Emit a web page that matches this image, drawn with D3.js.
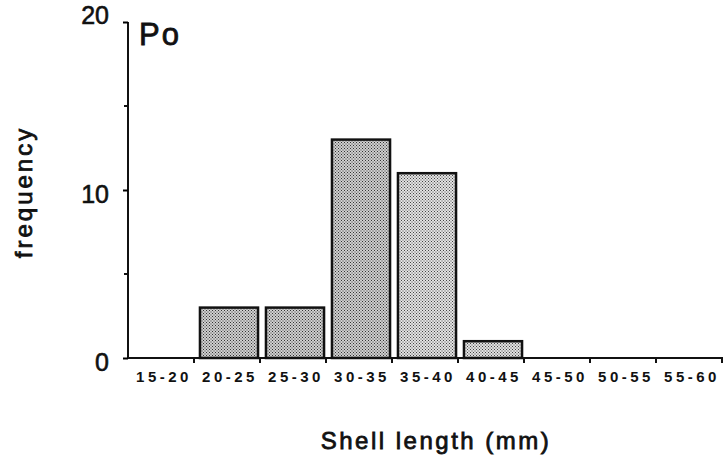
<!DOCTYPE html>
<html>
<head>
<meta charset="utf-8">
<script src="https://cdn.jsdelivr.net/npm/d3@7"></script>
<style>
  body { margin: 0; background: #fff; }
  text { font-family: "Liberation Sans", Arial, sans-serif; fill: #111; }
</style>
</head>
<body>
<div class="chart"></div>
<script>
var svgWidth = 723;
var svgHeight = 463;

// data
var bins = ["15-20", "20-25", "25-30", "30-35", "35-40", "40-45", "45-50", "50-55", "55-60"];
var counts = [0, 3, 3, 13, 11, 1, 0, 0, 0];
var shade = ["dark", "dark", "dark", "dark", "light", "light", "light", "light", "light"];
var yTicks = [0, 10, 20];
var yMinorTicks = [5, 15];

var margin = { top: 22, right: 0, bottom: 105, left: 128 };
var width = svgWidth - margin.left - margin.right;
var height = svgHeight - margin.top - margin.bottom;

var svg = d3.select(".chart")
  .append("svg")
  .attr("width", svgWidth)
  .attr("height", svgHeight);

// stipple patterns
var defs = svg.append("defs");
function stipple(id, bg, dot, step) {
  var p = defs.append("pattern")
    .attr("id", id)
    .attr("width", step)
    .attr("height", step)
    .attr("patternUnits", "userSpaceOnUse");
  p.append("rect").attr("width", step).attr("height", step).attr("fill", bg);
  p.append("rect").attr("x", 0).attr("y", 0).attr("width", 1).attr("height", 1).attr("fill", dot);
  p.append("rect").attr("x", step / 2).attr("y", step / 2).attr("width", 1).attr("height", 1).attr("fill", dot);
}
stipple("dark", "#cfcfcf", "#333", 3);
stipple("light", "#e2e2e2", "#444", 3);

var chartGroup = svg.append("g")
  .attr("transform", `translate(${margin.left}, ${margin.top})`);

var xScale = d3.scaleBand()
  .domain(bins)
  .range([0, 66 * bins.length])
  .paddingInner(0.12)
  .paddingOuter(0.06);

var yScale = d3.scaleLinear()
  .domain([0, 20])
  .range([height, 0]);

// bars
chartGroup.selectAll("rect.bar")
  .data(bins.map((b, i) => ({ bin: b, n: counts[i], s: shade[i] })).filter(d => d.n > 0))
  .enter()
  .append("rect")
  .attr("class", "bar")
  .attr("x", d => xScale(d.bin) + 2)
  .attr("y", d => yScale(d.n))
  .attr("width", xScale.bandwidth())
  .attr("height", d => yScale(0) - yScale(d.n))
  .attr("fill", d => "url(#" + d.s + ")")
  .attr("stroke", "#111")
  .attr("stroke-width", 2.5);

// y axis
var yAxis = d3.axisLeft(yScale).tickValues(yTicks).tickSize(5).tickPadding(14);
var yG = chartGroup.append("g").call(yAxis);
yG.select(".domain").attr("stroke", "#111").attr("stroke-width", 2).attr("d", `M0,${height}V0`);
yG.selectAll(".tick line").attr("stroke-width", 2);
yG.selectAll(".tick text")
  .style("font-size", "25px")
  .style("stroke", "#111")
  .style("stroke-width", "0.6px")
  .attr("dy", d => d == 20 ? "0.05em" : "0.5em");
chartGroup.selectAll("line.minor")
  .data(yMinorTicks)
  .enter()
  .append("line")
  .attr("x1", -4).attr("x2", 0)
  .attr("y1", d => yScale(d)).attr("y2", d => yScale(d))
  .attr("stroke", "#111").attr("stroke-width", 2);

// x axis
var bandStep = xScale.step();
var edges = d3.range(bins.length + 1).map(i => i * bandStep);
var xG = chartGroup.append("g").attr("transform", `translate(0, ${height})`);
xG.append("line")
  .attr("x1", 0).attr("x2", width)
  .attr("y1", 0).attr("y2", 0)
  .attr("stroke", "#111").attr("stroke-width", 2);
xG.selectAll("line.tick")
  .data(edges.slice(1))
  .enter()
  .append("line")
  .attr("x1", d => d).attr("x2", d => d)
  .attr("y1", 0).attr("y2", 5)
  .attr("stroke", "#111").attr("stroke-width", 2);
xG.selectAll("text.lab")
  .data(bins)
  .enter()
  .append("text")
  .attr("x", d => xScale(d) + xScale.bandwidth() / 2 + 3)
  .attr("y", 24)
  .attr("text-anchor", "middle")
  .style("font-size", "15px")
  .style("font-weight", "bold")
  .style("letter-spacing", "3.5px")
  .text(d => d);

// labels
svg.append("text")
  .attr("x", 139)
  .attr("y", 45)
  .style("font-size", "31px")
  .style("stroke", "#111")
  .style("stroke-width", "0.8px")
  .style("letter-spacing", "2px")
  .text("Po");

svg.append("text")
  .attr("transform", "rotate(-90)")
  .attr("x", -192)
  .attr("y", 32)
  .attr("text-anchor", "middle")
  .style("font-size", "24px")
  .style("stroke", "#111")
  .style("stroke-width", "0.8px")
  .style("letter-spacing", "3px")
  .text("frequency");

svg.append("text")
  .attr("x", 436)
  .attr("y", 449)
  .attr("text-anchor", "middle")
  .style("font-size", "24px")
  .style("stroke", "#111")
  .style("stroke-width", "0.8px")
  .style("letter-spacing", "2.5px")
  .text("Shell length (mm)");
</script>
</body>
</html>
